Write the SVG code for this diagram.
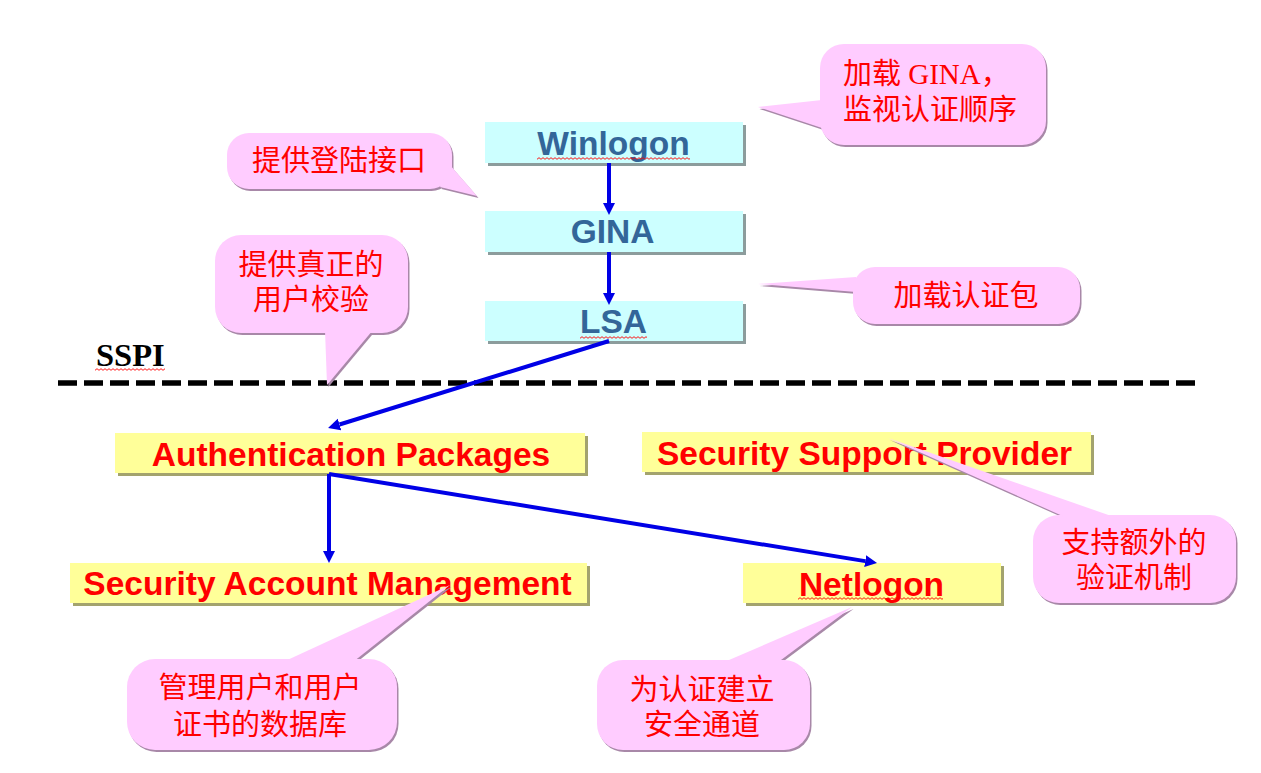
<svg xmlns="http://www.w3.org/2000/svg" xmlns:xlink="http://www.w3.org/1999/xlink" width="1261" height="773" viewBox="0 0 1261 773">
<style>
.cbox{fill:#CCFFFF}
.ybox{fill:#FFFF99}
.csh{fill:#8C9C9C}
.ysh{fill:#A3A36E}
.ntxt{font-family:"Liberation Sans",Arial,sans-serif;font-weight:bold;font-size:33.5px;text-anchor:middle}
.blue{fill:#336699}
.red{fill:#FF0000}
.ctxt{font-family:"Liberation Serif","Noto Sans CJK SC",serif;font-size:29px;fill:#FF0000;text-anchor:middle}
.bubble{fill:#FFCCFF}
.bsh{fill:#A888A8}
.conn{stroke:#0000E6;stroke-width:4;fill:none;marker-end:url(#ah)}
.squig{fill:url(#sq)}
</style>
<defs>
<marker id="ah" viewBox="0 -7 14 14" refX="0" refY="0" markerWidth="14" markerHeight="14" markerUnits="userSpaceOnUse" orient="auto">
<path d="M0,-6 L12,0 L0,6 Z" fill="#0000E6"/>
</marker>
<pattern id="sq" patternUnits="userSpaceOnUse" width="4" height="3">
<path d="M0,2.3 L2,0.7 L4,2.3" stroke="#FF0000" stroke-width="0.9" fill="none"/>
</pattern>
<g id="b1"><rect x="820" y="44" width="226" height="101" rx="24"/><polygon points="822,100 758,107 822,128"/></g>
<g id="b2"><rect x="227" y="133" width="225" height="56" rx="22"/><polygon points="450,165 477,196 440,187"/></g>
<g id="b3"><rect x="215" y="235" width="193" height="98" rx="26"/><polygon points="325,330 327,385 373,330"/></g>
<g id="b4"><rect x="853" y="267" width="227" height="57" rx="22"/><polygon points="856,277 758,284 856,292"/></g>
<g id="b5"><rect x="1033" y="515" width="203" height="88" rx="26"/><polygon points="1067,518 888,438 1117,518"/></g>
<g id="b6"><rect x="127" y="659" width="270" height="91" rx="28"/><polygon points="283,662 450,585 353,662"/></g>
<g id="b7"><rect x="597" y="660" width="213" height="90" rx="26"/><polygon points="722,663 852,607 777,663"/></g>
</defs>
<rect width="1261" height="773" fill="#FFFFFF"/>

<g id="sspi">
<line x1="58" y1="383" x2="1200" y2="383" stroke="#000" stroke-width="5.5" stroke-dasharray="19 7"/>
<text x="96" y="366" style="font-family:'Liberation Serif','Times New Roman',serif;font-weight:bold;font-size:32.5px;fill:#000">SSPI</text>
<g transform="translate(95,368)"><rect width="70" height="3" class="squig"/></g>
</g>

<g id="winlogon">
<rect x="488" y="125" width="258" height="41" class="csh"/>
<rect x="485" y="122" width="258" height="41" class="cbox"/>
<text x="613.5" y="155" class="ntxt blue">Winlogon</text>
<g transform="translate(537,157)"><rect width="153" height="3" class="squig"/></g>
</g>
<g id="gina">
<rect x="488" y="214" width="258" height="41" class="csh"/>
<rect x="485" y="211" width="258" height="41" class="cbox"/>
<text x="612.5" y="243" class="ntxt blue">GINA</text>
</g>
<g id="lsa">
<rect x="488" y="304" width="258" height="40" class="csh"/>
<rect x="485" y="301" width="258" height="40" class="cbox"/>
<text x="613.5" y="333" class="ntxt blue">LSA</text>
<g transform="translate(580,336)"><rect width="67" height="3" class="squig"/></g>
</g>

<g id="auth-packages">
<rect x="118" y="436" width="470" height="40" class="ysh"/>
<rect x="115" y="433" width="470" height="40" class="ybox"/>
<text x="351" y="466" class="ntxt red">Authentication Packages</text>
</g>
<g id="ssp">
<rect x="645" y="435" width="449" height="40" class="ysh"/>
<rect x="642" y="432" width="449" height="40" class="ybox"/>
<text x="864.5" y="465" class="ntxt red">Security Support Provider</text>
</g>
<g id="sam">
<rect x="73" y="566" width="517" height="40" class="ysh"/>
<rect x="70" y="563" width="517" height="40" class="ybox"/>
<text x="327.5" y="595" class="ntxt red">Security Account Management</text>
</g>
<g id="netlogon">
<rect x="746" y="566" width="258" height="40" class="ysh"/>
<rect x="743" y="563" width="258" height="40" class="ybox"/>
<text x="871.5" y="596" class="ntxt red">Netlogon</text>
<g transform="translate(798,597)"><rect width="145" height="3" class="squig"/></g>
</g>

<g id="connectors">
<line x1="609" y1="163" x2="609" y2="203" class="conn"/>
<line x1="609" y1="252" x2="609" y2="293" class="conn"/>
<line x1="609" y1="341" x2="339.5" y2="424.5" class="conn"/>
<line x1="329" y1="474" x2="329" y2="551" class="conn"/>
<line x1="329" y1="474" x2="865.2" y2="561.1" class="conn"/>
</g>

<g id="callout-gina">
<use xlink:href="#b1" class="bsh" transform="translate(1.5,2)"/>
<use xlink:href="#b1" class="bubble"/>
<text x="843" y="84" class="ctxt" style="text-anchor:start">加载 GINA，</text>
<text x="843" y="120" class="ctxt" style="text-anchor:start">监视认证顺序</text>
</g>
<g id="callout-winlogon">
<use xlink:href="#b2" class="bsh" transform="translate(1.5,2)"/>
<use xlink:href="#b2" class="bubble"/>
<text x="339" y="171" class="ctxt">提供登陆接口</text>
</g>
<g id="callout-gina2">
<use xlink:href="#b3" class="bsh" transform="translate(1.5,2)"/>
<use xlink:href="#b3" class="bubble"/>
<text x="311" y="275" class="ctxt">提供真正的</text>
<text x="311" y="310" class="ctxt">用户校验</text>
</g>
<g id="callout-lsa">
<use xlink:href="#b4" class="bsh" transform="translate(1.5,2)"/>
<use xlink:href="#b4" class="bubble"/>
<text x="966" y="306" class="ctxt">加载认证包</text>
</g>
<g id="callout-ssp">
<use xlink:href="#b5" class="bsh" transform="translate(1.5,2)"/>
<use xlink:href="#b5" class="bubble"/>
<text x="1134" y="553" class="ctxt">支持额外的</text>
<text x="1134" y="588" class="ctxt">验证机制</text>
</g>
<g id="callout-sam">
<use xlink:href="#b6" class="bsh" transform="translate(1.5,2)"/>
<use xlink:href="#b6" class="bubble"/>
<text x="260" y="698" class="ctxt">管理用户和用户</text>
<text x="260" y="735" class="ctxt">证书的数据库</text>
</g>
<g id="callout-netlogon">
<use xlink:href="#b7" class="bsh" transform="translate(1.5,2)"/>
<use xlink:href="#b7" class="bubble"/>
<text x="702" y="700" class="ctxt">为认证建立</text>
<text x="702" y="735" class="ctxt">安全通道</text>
</g>
</svg>
